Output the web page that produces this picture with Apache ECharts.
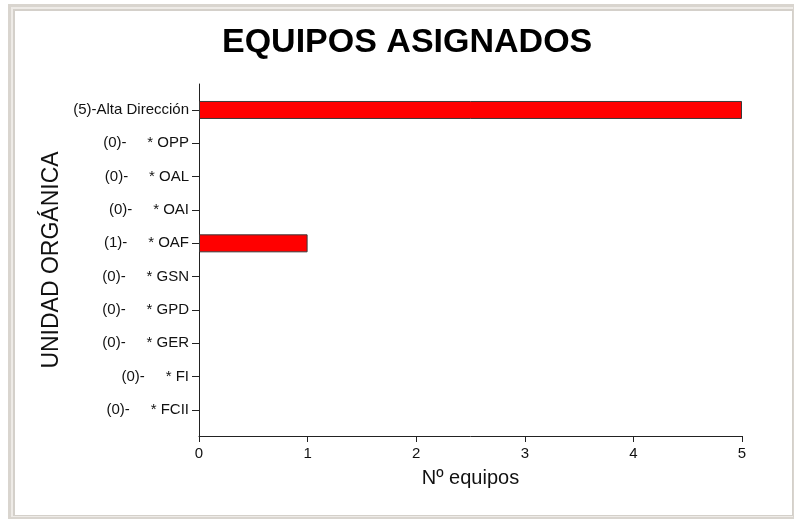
<!DOCTYPE html>
<html>
<head>
<meta charset="utf-8">
<script src="https://cdn.jsdelivr.net/npm/echarts@6/dist/echarts.min.js"></script>
<style>
html, body { margin: 0; padding: 0; background: #fff; }
.f { position: absolute; }
#f1 { left: 8px; top: 4px; width: 786px; height: 515px; background: #d9d5cf; }
#f2 { left: 11px; top: 7px; width: 782px; height: 510px; background: #eeebe7; }
#f3 { left: 13px; top: 9px; width: 780px; height: 507px; background: #d4d0ca; }
#f4 { left: 15px; top: 11px; width: 777px; height: 504px; background: #fff; }
#chart { position: absolute; left: 0; top: 0; width: 795px; height: 521px; }
</style>
</head>
<body>
<div class="f" id="f1"></div>
<div class="f" id="f2"></div>
<div class="f" id="f3"></div>
<div class="f" id="f4"></div>
<div id="chart"></div>
<script>
// datos del gráfico
const unidades = ['Alta Dirección', '* OPP', '* OAL', '* OAI', '* OAF', '* GSN', '* GPD', '* GER', '* FI', '* FCII']
const equipos = [5, 0, 0, 0, 1, 0, 0, 0, 0, 0]
const etiquetas = [
  '(5)-Alta Dirección',
  '(0)-     * OPP',
  '(0)-     * OAL',
  '(0)-     * OAI',
  '(1)-     * OAF',
  '(0)-     * GSN',
  '(0)-     * GPD',
  '(0)-     * GER',
  '(0)-     * FI',
  '(0)-     * FCII',
]
const ticksX = [0, 1, 2, 3, 4, 5]

const FONT = 'Liberation Sans, Arial, sans-serif'
const myChart = echarts.init(document.getElementById('chart'), null, { renderer: 'canvas' })

const option = {
  backgroundColor: 'transparent',
  animation: false,
  title: {
    text: 'EQUIPOS ASIGNADOS',
    left: 217,
    top: 21,
    textStyle: { fontFamily: FONT, fontSize: 34, fontWeight: 'bold', color: '#000' },
  },
  grid: [
    // barras
    { left: 199, width: 543, top: 93.3, height: 333.4 },
    // marco de ejes
    { left: 199, width: 543, top: 84, height: 352 },
  ],
  xAxis: [
    { gridIndex: 0, type: 'value', min: 0, max: 5, show: false },
    {
      gridIndex: 1,
      type: 'value',
      min: ticksX[0],
      max: ticksX[ticksX.length - 1],
      interval: 1,
      name: 'Nº equipos',
      nameLocation: 'middle',
      nameGap: 32,
      nameTextStyle: { fontFamily: FONT, fontSize: 20, color: '#111' },
      axisLine: { show: true, lineStyle: { color: '#222', width: 1 } },
      axisTick: { show: true, length: 6, lineStyle: { color: '#222' } },
      axisLabel: { fontFamily: FONT, fontSize: 15, color: '#111', margin: 10 },
      splitLine: { show: false },
    },
  ],
  yAxis: [
    {
      gridIndex: 0,
      type: 'category',
      inverse: true,
      data: etiquetas,
      axisLine: { show: false },
      axisTick: { show: true, length: 7, alignWithLabel: true, lineStyle: { color: '#222' } },
      axisLabel: { fontFamily: FONT, fontSize: 15, color: '#111', margin: 10 },
    },
    {
      gridIndex: 1,
      type: 'value',
      min: 0,
      max: 1,
      name: 'UNIDAD ORGÁNICA',
      nameLocation: 'middle',
      nameGap: 136,
      nameTextStyle: { fontFamily: FONT, fontSize: 23, color: '#111' },
      axisLine: { show: true, lineStyle: { color: '#222', width: 1 } },
      axisTick: { show: false },
      axisLabel: { show: false },
      splitLine: { show: false },
    },
  ],
  series: [
    {
      name: 'equipos',
      type: 'bar',
      xAxisIndex: 0,
      yAxisIndex: 0,
      data: equipos.map((v) => ({ value: v, itemStyle: v ? {} : { borderWidth: 0 } })),
      barWidth: 18,
      itemStyle: { color: '#ff0000', borderColor: '#3a3a3a', borderWidth: 1 },
    },
  ],
}

myChart.setOption(option)
</script>
</body>
</html>
